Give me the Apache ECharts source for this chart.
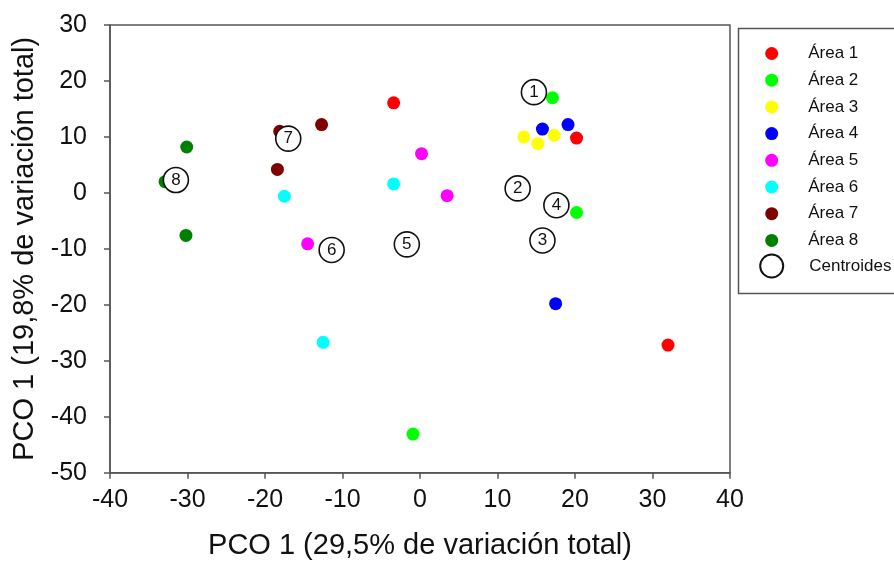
<!DOCTYPE html>
<html>
<head>
<meta charset="utf-8">
<script src="https://cdn.jsdelivr.net/npm/echarts@6/dist/echarts.min.js"></script>
<style>
html,body{margin:0;padding:0;background:#fff;}
#chart{width:894px;height:570px;}
</style>
</head>
<body>
<div id="chart"></div>
<script>
// ---- data ----
const seriesNames = ['Área 1','Área 2','Área 3','Área 4','Área 5','Área 6','Área 7','Área 8'];
const area1 = [[-3.4,16.1],[20.2,9.8],[32.0,-27.2]];
const area2 = [[17.1,17.0],[20.2,-3.5],[-0.9,-43.1]];
const area3 = [[13.4,10.0],[15.2,8.8],[17.3,10.3]];
const area4 = [[15.8,11.4],[19.1,12.2],[17.5,-19.8]];
const area5 = [[0.2,7.0],[3.5,-0.5],[-14.5,-9.1]];
const area6 = [[-17.5,-0.6],[-3.4,1.6],[-12.5,-26.7]];
const area7 = [[-18.1,11.0],[-12.7,12.2],[-18.4,4.2]];
const area8 = [[-30.1,8.2],[-32.9,2.0],[-30.2,-7.6]];
const centroidLabels = ['1','2','3','4','5','6','7','8'];
const centroidX = [14.7,12.6,15.8,17.6,-1.7,-11.4,-17.0,-31.5];
const centroidY = [18.0,0.8,-8.5,-2.2,-9.2,-10.2,9.7,2.3];
const xTicks = [-40,-30,-20,-10,0,10,20,30,40];
const yTicks = [-50,-40,-30,-20,-10,0,10,20,30];
const xTitle = 'PCO 1 (29,5% de variación total)';
const yTitle = 'PCO 1 (19,8% de variación total)';
const centroidName = 'Centroides';

// ---- styles ----
const colors = ['#ff0000','#00ff00','#ffff00','#0000ff','#ff00ff','#00ffff','#800000','#008000'];
const areaData = [area1,area2,area3,area4,area5,area6,area7,area8];
const mainFont = '"Liberation Sans", Arial, Helvetica, sans-serif';

const series = areaData.map((d,i)=>({
  name: seriesNames[i],
  type: 'scatter',
  data: d,
  symbol: 'circle',
  symbolSize: 13,
  itemStyle: {color: colors[i], opacity: 1},
  emphasis: {disabled: true},
  z: 2
}));
series.push({
  name: centroidName,
  type: 'scatter',
  data: centroidX.map((x,i)=>({value:[x, centroidY[i]], name: centroidLabels[i]})),
  symbol: 'circle',
  symbolSize: 25,
  itemStyle: {color: '#ffffff', borderColor: '#111', borderWidth: 1.6, opacity: 1},
  label: {show: true, position: 'inside', formatter: p=>p.name, color:'#111', fontSize: 17, fontFamily: mainFont},
  emphasis: {disabled: true},
  z: 3
});

const axisCommon = {
  axisLine: {show: true, onZero: false, lineStyle: {color: '#555', width: 1.5}},
  axisTick: {show: true, inside: false, length: 6, lineStyle: {color: '#555', width: 1.5}},
  splitLine: {show: false},
  nameLocation: 'middle',
  nameTextStyle: {fontSize: 29, color: '#111', fontFamily: mainFont}
};

const chart = echarts.init(document.getElementById('chart'));
chart.setOption({
  animation: false,
  backgroundColor: '#fff',
  grid: {left: 110, right: 164, top: 25, bottom: 97.3, show: true, borderColor: '#555', borderWidth: 1.5, backgroundColor: 'transparent'},
  xAxis: Object.assign({}, axisCommon, {
    type: 'value', min: xTicks[0], max: xTicks[xTicks.length-1], interval: 10,
    name: xTitle, nameGap: 59,
    axisLabel: {fontSize: 25, color: '#111', fontFamily: mainFont, margin: 15}
  }),
  yAxis: Object.assign({}, axisCommon, {
    type: 'value', min: yTicks[0], max: yTicks[yTicks.length-1], interval: 10,
    name: yTitle, nameGap: 51,
    axisLabel: {fontSize: 25, color: '#111', fontFamily: mainFont, margin: 23}
  }),
  legend: [{
    orient: 'vertical', left: 765.2, top: 45, padding: 0,
    itemWidth: 13, itemHeight: 13, itemGap: 9.7,
    icon: 'circle',
    data: seriesNames,
    textStyle: {fontSize: 17, color: '#111', fontFamily: mainFont, padding: [0,0,0,25]},
    selectedMode: false
  },{
    orient: 'vertical', left: 759.2, top: 253.5, padding: 0,
    itemWidth: 23, itemHeight: 23,
    icon: 'circle',
    data: [centroidName],
    textStyle: {fontSize: 17, color: '#111', fontFamily: mainFont, padding: [0,0,0,21]},
    selectedMode: false
  }],
  graphic: [{
    type: 'rect', left: 736, top: 26, z: 0,
    shape: {width: 157, height: 265},
    style: {fill: 'none', stroke: '#555', lineWidth: 1.5}
  }],
  series: series
});
</script>
</body>
</html>
